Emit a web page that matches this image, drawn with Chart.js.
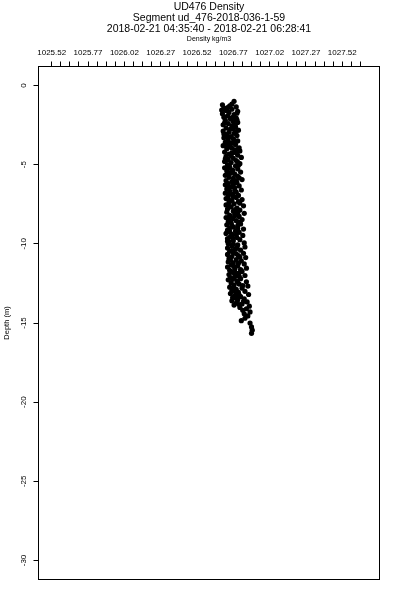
<!DOCTYPE html>
<html>
<head>
<meta charset="utf-8">
<title>UD476 Density</title>
<script src="https://cdn.jsdelivr.net/npm/chart.js@4.4.1/dist/chart.umd.min.js"></script>
<style>
  body { margin: 0; background: #fff; }
  canvas { display: block; }
</style>
</head>
<body>
<canvas id="density-chart" width="400" height="600"></canvas>
<script>
// Text
const titleLines = [
    'UD476 Density',
    'Segment ud_476-2018-036-1-59',
    '2018-02-21 04:35:40 - 2018-02-21 06:28:41'
];
const xAxisTitle = 'Density kg/m3';
const yAxisTitle = 'Depth (m)';

// Axes
const xTickLabels = ['1025.52', '1025.77', '1026.02', '1026.27', '1026.52', '1026.77', '1027.02', '1027.27', '1027.52'];
const xMinorPerMajor = 4;
const xMinorExtra = 2; // minor ticks past the last label
const yTickValues = [0, -5, -10, -15, -20, -25, -30];
const xRange = [1025.429, 1027.776];
const yRange = [-31.2, 1.2];

// Profile samples
const depth = [
    -1.00, -1.22, -1.28, -1.35, -1.42, -1.50, -1.58, -1.63, -1.70, -1.78, -1.84, -1.92,
    -2.00, -2.06, -2.12, -2.20, -2.27, -2.33, -2.40, -2.48, -2.55, -2.60, -2.68, -2.75, -2.82, -2.88, -2.95,
    -3.02, -3.10, -3.16, -3.22, -3.30, -3.37, -3.44, -3.50, -3.58, -3.65, -3.72, -3.80, -3.86, -3.93,
    -4.00, -4.07, -4.13, -4.20, -4.27, -4.33, -4.40, -4.47, -4.54, -4.60, -4.67, -4.74, -4.80, -4.87, -4.94,
    -5.00, -5.07, -5.14, -5.20, -5.27, -5.34, -5.40, -5.47, -5.54, -5.60, -5.67, -5.74, -5.80, -5.87, -5.94,
    -6.00, -6.07, -6.14, -6.20, -6.27, -6.34, -6.40, -6.47, -6.54, -6.60, -6.67, -6.74, -6.80, -6.87, -6.94,
    -7.00, -7.07, -7.14, -7.20, -7.27, -7.34, -7.40, -7.47, -7.54, -7.60, -7.67, -7.74, -7.80, -7.87, -7.94,
    -8.00, -8.07, -8.14, -8.20, -8.27, -8.34, -8.40, -8.47, -8.54, -8.60, -8.67, -8.74, -8.80, -8.87, -8.94,
    -9.00, -9.07, -9.14, -9.20, -9.27, -9.34, -9.40, -9.47, -9.54, -9.60, -9.67, -9.74, -9.80, -9.87, -9.94,
    -10.00, -10.07, -10.14, -10.20, -10.27, -10.34, -10.40, -10.47, -10.54, -10.60, -10.67, -10.74, -10.80, -10.87, -10.94,
    -11.00, -11.07, -11.14, -11.20, -11.27, -11.34, -11.40, -11.47, -11.54, -11.60, -11.67, -11.74, -11.80, -11.87, -11.94,
    -12.00, -12.07, -12.14, -12.20, -12.27, -12.34,
    -12.40, -12.47, -12.54, -12.60, -12.67, -12.74, -12.80, -12.87, -12.94,
    -13.00, -13.07, -13.14, -13.20, -13.27, -13.34, -13.40, -13.47, -13.54, -13.60, -13.67, -13.74, -13.80, -13.87, -13.94,
    -14.02, -14.10, -14.20, -14.30, -14.42, -14.55, -14.70, -14.85, -15.00, -15.25, -15.45, -15.65,
    // second pass, filling the gaps in the cloud
    -1.18, -1.40, -1.55, -1.75,
    -2.03, -2.17, -2.36, -2.52, -2.72, -2.91, -3.06, -3.26, -3.47, -3.62, -3.76, -3.96,
    -4.03, -4.23, -4.43, -4.63, -4.83, -5.03, -5.23, -5.43, -5.63, -5.83, -6.03, -6.23, -6.43, -6.63, -6.83,
    -7.03, -7.23, -7.43, -7.63, -7.83, -8.03, -8.23, -8.43, -8.63, -8.83, -9.03, -9.23, -9.43, -9.63, -9.83,
    -10.03, -10.23, -10.43, -10.63, -10.83, -11.03, -11.23, -11.43, -11.63, -11.83, -12.03, -12.23,
    -12.43, -12.63, -12.83, -13.03, -13.23, -13.43, -13.63, -13.83
];
const density = [
    1026.775, 1026.695, 1026.745, 1026.790, 1026.705, 1026.760, 1026.720, 1026.800, 1026.740, 1026.695, 1026.775, 1026.730,
    1026.705, 1026.790, 1026.750, 1026.715, 1026.770, 1026.800, 1026.735, 1026.700, 1026.760, 1026.785, 1026.720, 1026.750, 1026.805, 1026.700, 1026.740,
    1026.775, 1026.725, 1026.795, 1026.755, 1026.705, 1026.770, 1026.735, 1026.800, 1026.715, 1026.760, 1026.785, 1026.700, 1026.745, 1026.810,
    1026.725, 1026.780, 1026.815, 1026.710, 1026.760, 1026.740, 1026.800, 1026.720, 1026.825, 1026.770, 1026.735, 1026.790, 1026.710, 1026.755, 1026.815,
    1026.730, 1026.785, 1026.745, 1026.710, 1026.800, 1026.765, 1026.725, 1026.820, 1026.750, 1026.780, 1026.715, 1026.800, 1026.740, 1026.770, 1026.830,
    1026.720, 1026.760, 1026.795, 1026.735, 1026.715, 1026.810, 1026.755, 1026.780, 1026.725, 1026.825, 1026.745, 1026.790, 1026.715, 1026.765, 1026.805,
    1026.735, 1026.790, 1026.720, 1026.830, 1026.760, 1026.805, 1026.740, 1026.775, 1026.720, 1026.840, 1026.755, 1026.795, 1026.730, 1026.815, 1026.770,
    1026.725, 1026.845, 1026.780, 1026.745, 1026.810, 1026.720, 1026.765, 1026.830, 1026.790, 1026.735, 1026.755, 1026.820, 1026.725, 1026.800, 1026.770,
    1026.745, 1026.840, 1026.730, 1026.785, 1026.810, 1026.720, 1026.760, 1026.835, 1026.750, 1026.795, 1026.730, 1026.815, 1026.770, 1026.740, 1026.845,
    1026.735, 1026.800, 1026.760, 1026.850, 1026.730, 1026.785, 1026.820, 1026.745, 1026.770, 1026.840, 1026.730, 1026.805, 1026.760, 1026.855, 1026.740,
    1026.790, 1026.825, 1026.735, 1026.770, 1026.845, 1026.755, 1026.800, 1026.730, 1026.860, 1026.780, 1026.745, 1026.830, 1026.765, 1026.805, 1026.740,
    1026.850, 1026.780, 1026.750, 1026.820, 1026.735, 1026.795,
    1026.860, 1026.755, 1026.810, 1026.775, 1026.870, 1026.745, 1026.830, 1026.790, 1026.760,
    1026.850, 1026.805, 1026.750, 1026.875, 1026.780, 1026.820, 1026.765, 1026.845, 1026.800, 1026.760, 1026.865, 1026.790, 1026.830, 1026.775, 1026.880,
    1026.815, 1026.860, 1026.835, 1026.885, 1026.845, 1026.870, 1026.850, 1026.825, 1026.885, 1026.895, 1026.900, 1026.895,
    // second pass
    1026.760, 1026.730, 1026.690, 1026.795,
    1026.760, 1026.795, 1026.710, 1026.780, 1026.770, 1026.790, 1026.705, 1026.735, 1026.775, 1026.740, 1026.720, 1026.760,
    1026.800, 1026.785, 1026.755, 1026.715, 1026.800, 1026.805, 1026.740, 1026.765, 1026.735, 1026.810, 1026.790, 1026.770, 1026.730, 1026.780, 1026.740,
    1026.770, 1026.740, 1026.815, 1026.735, 1026.785, 1026.800, 1026.780, 1026.740, 1026.805, 1026.760, 1026.800, 1026.745, 1026.790, 1026.765, 1026.730,
    1026.770, 1026.795, 1026.760, 1026.790, 1026.815, 1026.750, 1026.805, 1026.775, 1026.820, 1026.780, 1026.810, 1026.765,
    1026.800, 1026.835, 1026.770, 1026.785, 1026.810, 1026.790, 1026.840, 1026.810
];

const FONT = '"Liberation Sans", Arial, Helvetica, sans-serif';

// tick positions along the top axis (labels every 4th tick)
const xTickValues = [];
const xFirst = parseFloat(xTickLabels[0]);
const xStep = (parseFloat(xTickLabels[1]) - xFirst) / xMinorPerMajor;
const xTickCount = (xTickLabels.length - 1) * xMinorPerMajor + xMinorExtra + 1;
for (let i = 0; i < xTickCount; i++) {
    xTickValues.push(xFirst + i * xStep);
}

// R-style text, rotated y labels and the box round the plot
const rStylePlugin = {
    id: 'rStyle',
    afterDraw(chart) {
        const ctx = chart.ctx;
        const area = chart.chartArea;
        const yScale = chart.scales.y;
        const midX = (area.left + area.right) / 2;

        ctx.save();
        ctx.fillStyle = '#000';
        ctx.textAlign = 'center';
        ctx.textBaseline = 'middle';

        ctx.font = '10.5px ' + FONT;
        const titleY = [7.5, 18.5, 29.5];
        titleLines.forEach((line, i) => ctx.fillText(line, midX, titleY[i]));

        ctx.font = '7px ' + FONT;
        ctx.fillText(xAxisTitle, midX, 39.5);

        ctx.font = '8px ' + FONT;
        yTickValues.forEach(v => {
            ctx.save();
            ctx.translate(23.5, yScale.getPixelForValue(v));
            ctx.rotate(-Math.PI / 2);
            ctx.fillText(String(v), 0, 0);
            ctx.restore();
        });

        ctx.font = '7.5px ' + FONT;
        ctx.save();
        ctx.translate(7, (area.top + area.bottom) / 2);
        ctx.rotate(-Math.PI / 2);
        ctx.fillText(yAxisTitle, 0, 0);
        ctx.restore();

        ctx.strokeStyle = '#000';
        ctx.lineWidth = 1;
        ctx.strokeRect(area.left, area.top, area.right - area.left, area.bottom - area.top);
        ctx.restore();
    }
};

new Chart(document.getElementById('density-chart'), {
    type: 'scatter',
    data: {
        datasets: [{
            label: 'Density',
            data: density.map((d, i) => ({ x: d, y: depth[i] })),
            backgroundColor: '#000',
            borderWidth: 0,
            pointRadius: 2.6
        }]
    },
    options: {
        responsive: false,
        animation: false,
        layout: {
            padding: { top: 46.5, left: 0, right: 20.5, bottom: 20.5 }
        },
        plugins: {
            legend: { display: false },
            tooltip: { enabled: false }
        },
        scales: {
            x: {
                type: 'linear',
                position: 'top',
                min: xRange[0],
                max: xRange[1],
                afterBuildTicks: scale => {
                    scale.ticks = xTickValues.map(v => ({ value: v }));
                },
                afterFit: scale => { scale.height = 20; },
                ticks: {
                    autoSkip: false,
                    maxRotation: 0,
                    padding: 4,
                    color: '#000',
                    font: { family: FONT, size: 8 },
                    callback: (value, index) =>
                        index % xMinorPerMajor === 0 ? xTickLabels[index / xMinorPerMajor] : ''
                },
                grid: {
                    drawOnChartArea: false,
                    drawTicks: true,
                    tickLength: 5,
                    color: '#000'
                },
                border: { display: true, color: '#000' }
            },
            y: {
                type: 'linear',
                min: yRange[0],
                max: yRange[1],
                afterBuildTicks: scale => {
                    scale.ticks = yTickValues.map(v => ({ value: v }));
                },
                afterFit: scale => { scale.width = 38.5; },
                ticks: { display: false },
                grid: {
                    drawOnChartArea: false,
                    drawTicks: true,
                    tickLength: 5,
                    color: '#000'
                },
                border: { display: true, color: '#000' }
            }
        }
    },
    plugins: [rStylePlugin]
});
</script>
</body>
</html>
